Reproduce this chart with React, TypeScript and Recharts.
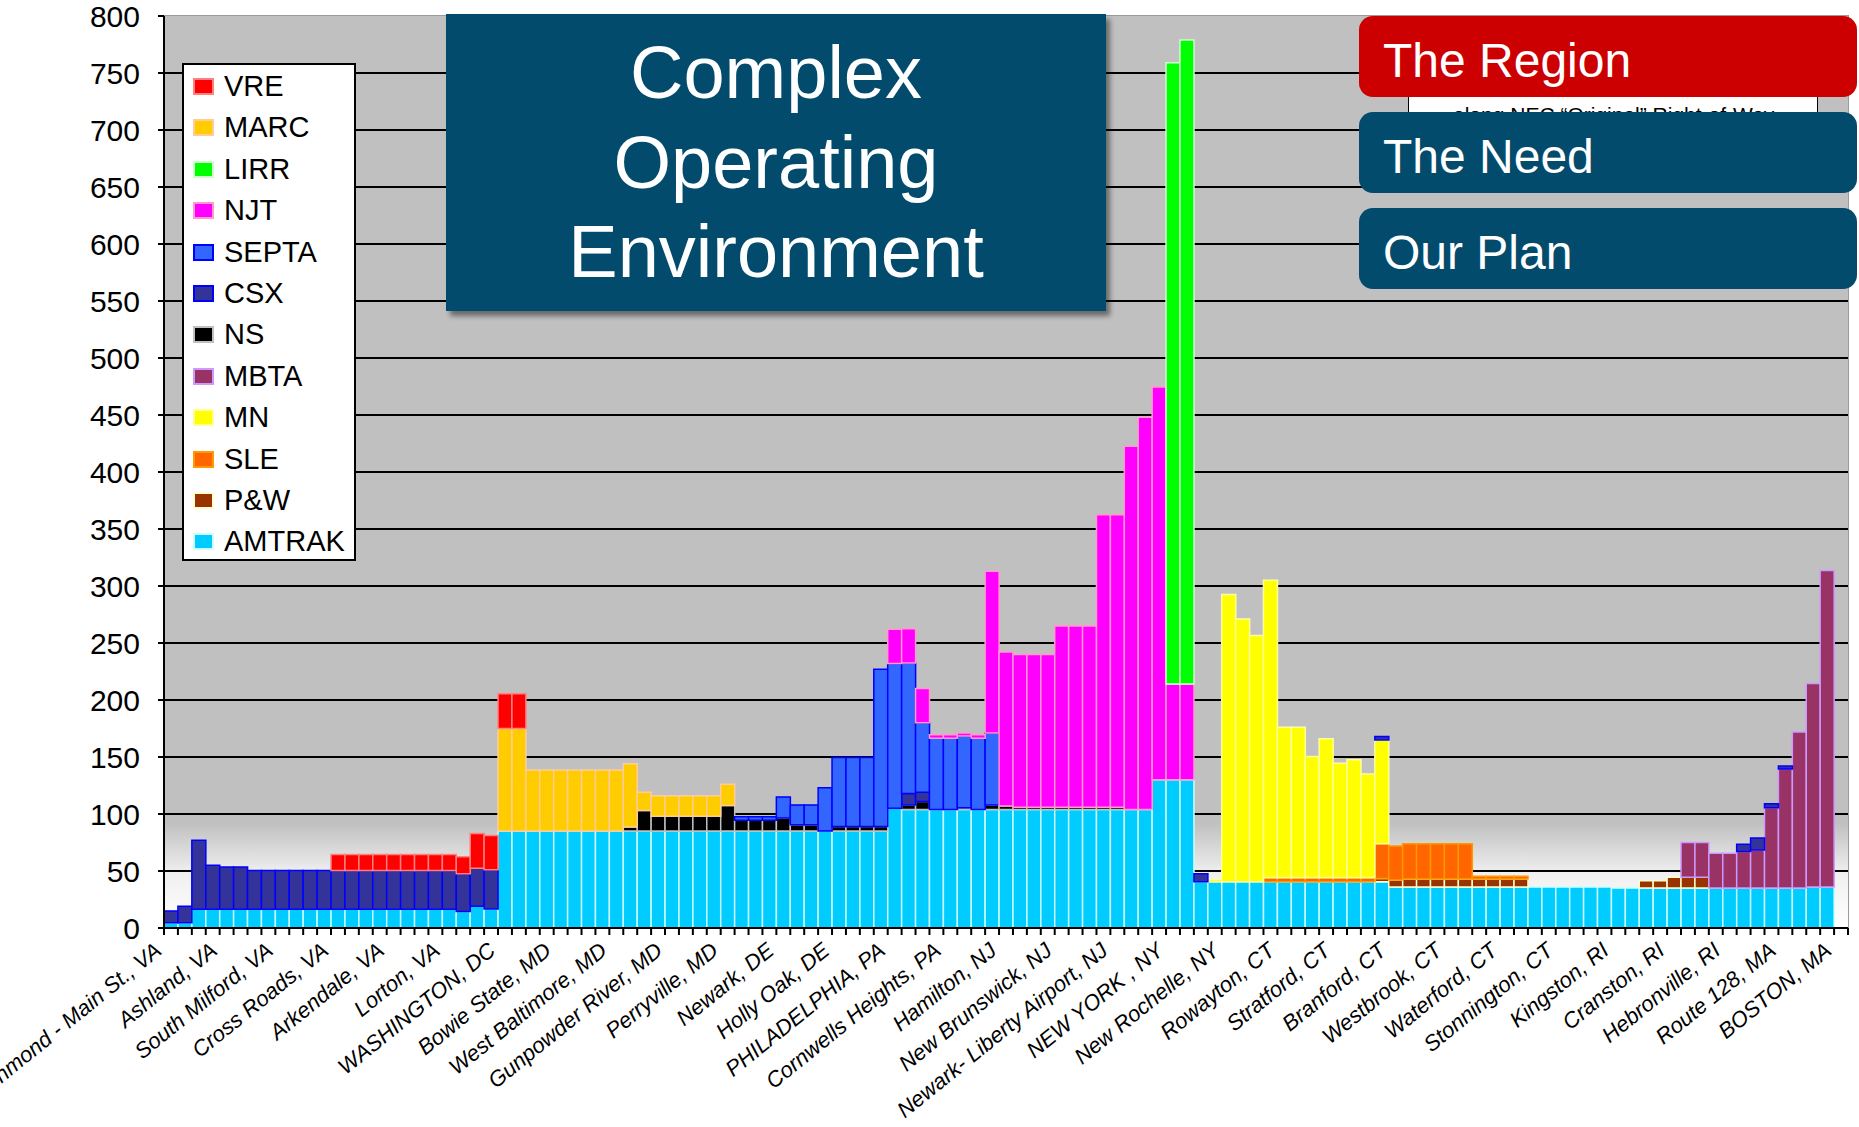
import { BarChart, Bar, XAxis, YAxis, CartesianGrid } from "recharts";

const W = 1859;
const H = 1127;
const MARGIN = { top: 16, right: 11, bottom: 0, left: 0 };
const Y_AXIS_W = 164;
const X_AXIS_H = 199;
const PLOT_LEFT = MARGIN.left + Y_AXIS_W;
const PLOT_TOP = MARGIN.top;
const PLOT_BOTTOM = H - X_AXIS_H;
const CATEGORY_COUNT = 121;
const BAND = (W - MARGIN.right - PLOT_LEFT) / CATEGORY_COUNT;
const FONT = "'Liberation Sans', Arial, sans-serif";

// one label every 4th station, from Richmond (0) to Boston (120)
const TICK_LABELS = [
  "Richmond - Main St., VA", "Ashland, VA", "South Milford, VA", "Cross Roads, VA",
  "Arkendale, VA", "Lorton, VA", "WASHINGTON, DC", "Bowie State, MD",
  "West Baltimore, MD", "Gunpowder River, MD", "Perryville, MD", "Newark, DE",
  "Holly Oak, DE", "PHILADELPHIA, PA", "Cornwells Heights, PA", "Hamilton, NJ",
  "New Brunswick, NJ", "Newark- Liberty Airport, NJ", "NEW YORK , NY", "New Rochelle, NY",
  "Rowayton, CT", "Stratford, CT", "Branford, CT", "Westbrook, CT",
  "Waterford, CT", "Stonnington, CT", "Kingston, RI", "Cranston, RI",
  "Hebronville, RI", "Route 128, MA", "BOSTON, MA",
];

const Y_TICKS = [0, 50, 100, 150, 200, 250, 300, 350, 400, 450, 500, 550, 600, 650, 700, 750, 800];
const GRID_VALUES = [50, 100, 150, 200, 250, 300, 350, 400, 450, 500, 550, 600, 650, 700, 750];

// trains per day, by station (121 slots)
const AMTRAK = [
  4.5, 4.5, 16.5, 16.5, 16.5, 16.5, 16.5, 16.5, 16.5, 16.5,
  16.5, 16.5, 16.5, 16.5, 16.5, 16.5, 16.5, 16.5, 16.5, 16.5,
  16.5, 14.5, 19, 16.7, 85, 85, 85, 85, 85, 85,
  85, 85, 85, 85, 85, 85, 85, 85, 85, 85,
  85, 85, 85, 85, 85, 85, 85, 85, 85, 85,
  85, 85, 105, 104, 104, 104, 104, 104, 104, 104,
  104, 104, 104, 104, 104, 104, 104, 104, 104, 104,
  104, 130, 130, 130, 40.5, 40.5, 40.5, 40.5, 40.5, 40.5,
  40.5, 40.5, 40.5, 40.5, 40.5, 40.5, 40.5, 40.5, 36, 36,
  36, 36, 36, 36, 36, 36, 36, 36, 36, 36,
  36, 36, 36, 36, 35, 35, 35, 35, 35, 35,
  35, 35, 35, 35, 35, 35, 35, 35, 36, 36,
  0,
];
const PW = [
  0, 0, 0, 0, 0, 0, 0, 0, 0, 0,
  0, 0, 0, 0, 0, 0, 0, 0, 0, 0,
  0, 0, 0, 0, 0, 0, 0, 0, 0, 0,
  0, 0, 0, 0, 0, 0, 0, 0, 0, 0,
  0, 0, 0, 0, 0, 0, 0, 0, 0, 0,
  0, 0, 0, 0, 0, 0, 0, 0, 0, 0,
  0, 0, 0, 0, 0, 0, 0, 0, 0, 0,
  0, 0, 0, 0, 0, 0, 0, 0, 0, 0,
  0, 0, 0, 0, 0, 0, 0, 3, 6, 7,
  7, 7, 7, 7, 7, 7, 7, 7, 0, 0,
  0, 0, 0, 0, 0, 0, 6.5, 6.5, 9.5, 9.5,
  9.5, 0, 0, 0, 0, 0, 0, 0, 0, 0,
  0,
];
const SLE = [
  0, 0, 0, 0, 0, 0, 0, 0, 0, 0,
  0, 0, 0, 0, 0, 0, 0, 0, 0, 0,
  0, 0, 0, 0, 0, 0, 0, 0, 0, 0,
  0, 0, 0, 0, 0, 0, 0, 0, 0, 0,
  0, 0, 0, 0, 0, 0, 0, 0, 0, 0,
  0, 0, 0, 0, 0, 0, 0, 0, 0, 0,
  0, 0, 0, 0, 0, 0, 0, 0, 0, 0,
  0, 0, 0, 0, 0, 0, 0, 0, 0, 3.5,
  3.5, 3.5, 3.5, 3.5, 3.5, 3.5, 3.5, 30.5, 30, 31,
  31, 31, 31, 31, 2.5, 2.5, 2.5, 2.5, 0, 0,
  0, 0, 0, 0, 0, 0, 0, 0, 0, 0,
  0, 0, 0, 0, 0, 0, 0, 0, 0, 0,
  0,
];
const MN = [
  0, 0, 0, 0, 0, 0, 0, 0, 0, 0,
  0, 0, 0, 0, 0, 0, 0, 0, 0, 0,
  0, 0, 0, 0, 0, 0, 0, 0, 0, 0,
  0, 0, 0, 0, 0, 0, 0, 0, 0, 0,
  0, 0, 0, 0, 0, 0, 0, 0, 0, 0,
  0, 0, 0, 0, 0, 0, 0, 0, 0, 0,
  0, 0, 0, 0, 0, 0, 0, 0, 0, 0,
  0, 0, 0, 0, 0, 2, 252, 230.5, 216, 261,
  132, 132, 106.5, 122, 100.5, 103.5, 91, 91, 0, 0,
  0, 0, 0, 0, 0, 0, 0, 0, 0, 0,
  0, 0, 0, 0, 0, 0, 0, 0, 0, 0,
  0, 0, 0, 0, 0, 0, 0, 0, 0, 0,
  0,
];
const MBTA = [
  0, 0, 0, 0, 0, 0, 0, 0, 0, 0,
  0, 0, 0, 0, 0, 0, 0, 0, 0, 0,
  0, 0, 0, 0, 0, 0, 0, 0, 0, 0,
  0, 0, 0, 0, 0, 0, 0, 0, 0, 0,
  0, 0, 0, 0, 0, 0, 0, 0, 0, 0,
  0, 0, 0, 0, 0, 0, 0, 0, 0, 0,
  0, 0, 0, 0, 0, 0, 0, 0, 0, 0,
  0, 0, 0, 0, 0, 0, 0, 0, 0, 0,
  0, 0, 0, 0, 0, 0, 0, 0, 0, 0,
  0, 0, 0, 0, 0, 0, 0, 0, 0, 0,
  0, 0, 0, 0, 0, 0, 0, 0, 0, 30.5,
  30.5, 30.5, 30.5, 32, 33.5, 70.5, 104.5, 137, 178.5, 277.5,
  0,
];
const NS = [
  0, 0, 0, 0, 0, 0, 0, 0, 0, 0,
  0, 0, 0, 0, 0, 0, 0, 0, 0, 0,
  0, 0, 0, 0, 0, 0, 0, 0, 0, 0,
  0, 0, 0, 3.5, 18, 13, 13, 13, 13, 13,
  22.5, 9.5, 9.5, 9.5, 11.5, 5.5, 5.5, 0, 4, 4,
  4, 4, 0, 4, 7, 0, 0, 1.5, 0, 4,
  3, 2, 2, 2, 2, 2, 2, 2, 2, 0,
  0, 0, 0, 0, 0, 0, 0, 0, 0, 0,
  0, 0, 0, 0, 0, 0, 0, 0, 0, 0,
  0, 0, 0, 0, 0, 0, 0, 0, 0, 0,
  0, 0, 0, 0, 0, 0, 0, 0, 0, 0,
  0, 0, 0, 0, 0, 0, 0, 0, 0, 0,
  0,
];
const CSX = [
  10.5, 14.5, 60.5, 38.5, 37, 37, 34, 34, 34, 34,
  34, 34, 34, 34, 34, 34, 34, 34, 34, 34,
  34, 33, 33.5, 34.5, 0, 0, 0, 0, 0, 0,
  0, 0, 0, 0, 0, 0, 0, 0, 0, 0,
  0, 0, 0, 0, 0, 0, 0, 0, 0, 0,
  0, 0, 0, 10, 8, 0, 0, 0, 0, 0,
  0, 0, 0, 0, 0, 0, 0, 0, 0, 0,
  0, 0, 0, 0, 7, 0, 0, 0, 0, 0,
  0, 0, 0, 0, 0, 0, 0, 3, 0, 0,
  0, 0, 0, 0, 0, 0, 0, 0, 0, 0,
  0, 0, 0, 0, 0, 0, 0, 0, 0, 0,
  0, 0, 0, 6.5, 10.5, 3.5, 2.5, 0, 0, 0,
  0,
];
const SEPTA = [
  0, 0, 0, 0, 0, 0, 0, 0, 0, 0,
  0, 0, 0, 0, 0, 0, 0, 0, 0, 0,
  0, 0, 0, 0, 0, 0, 0, 0, 0, 0,
  0, 0, 0, 0, 0, 0, 0, 0, 0, 0,
  0, 3, 3, 3, 18.5, 17.5, 17.5, 38, 60.5, 60.5,
  60.5, 138, 127, 114.5, 61, 62.5, 62.5, 63, 62.5, 63,
  0, 0, 0, 0, 0, 0, 0, 0, 0, 0,
  0, 0, 0, 0, 0, 0, 0, 0, 0, 0,
  0, 0, 0, 0, 0, 0, 0, 0, 0, 0,
  0, 0, 0, 0, 0, 0, 0, 0, 0, 0,
  0, 0, 0, 0, 0, 0, 0, 0, 0, 0,
  0, 0, 0, 0, 0, 0, 0, 0, 0, 0,
  0,
];
const NJT = [
  0, 0, 0, 0, 0, 0, 0, 0, 0, 0,
  0, 0, 0, 0, 0, 0, 0, 0, 0, 0,
  0, 0, 0, 0, 0, 0, 0, 0, 0, 0,
  0, 0, 0, 0, 0, 0, 0, 0, 0, 0,
  0, 0, 0, 0, 0, 0, 0, 0, 0, 0,
  0, 0, 30, 30, 30, 3, 3, 2.5, 3, 142,
  135, 134, 134, 134, 159, 159, 159, 256.5, 256.5, 318.5,
  344, 344.5, 84, 84, 0, 0, 0, 0, 0, 0,
  0, 0, 0, 0, 0, 0, 0, 0, 0, 0,
  0, 0, 0, 0, 0, 0, 0, 0, 0, 0,
  0, 0, 0, 0, 0, 0, 0, 0, 0, 0,
  0, 0, 0, 0, 0, 0, 0, 0, 0, 0,
  0,
];
const LIRR = [
  0, 0, 0, 0, 0, 0, 0, 0, 0, 0,
  0, 0, 0, 0, 0, 0, 0, 0, 0, 0,
  0, 0, 0, 0, 0, 0, 0, 0, 0, 0,
  0, 0, 0, 0, 0, 0, 0, 0, 0, 0,
  0, 0, 0, 0, 0, 0, 0, 0, 0, 0,
  0, 0, 0, 0, 0, 0, 0, 0, 0, 0,
  0, 0, 0, 0, 0, 0, 0, 0, 0, 0,
  0, 0, 545, 565, 0, 0, 0, 0, 0, 0,
  0, 0, 0, 0, 0, 0, 0, 0, 0, 0,
  0, 0, 0, 0, 0, 0, 0, 0, 0, 0,
  0, 0, 0, 0, 0, 0, 0, 0, 0, 0,
  0, 0, 0, 0, 0, 0, 0, 0, 0, 0,
  0,
];
const MARC = [
  0, 0, 0, 0, 0, 0, 0, 0, 0, 0,
  0, 0, 0, 0, 0, 0, 0, 0, 0, 0,
  0, 0, 0, 0, 90, 90, 53.5, 53.5, 53.5, 53.5,
  53.5, 53.5, 53.5, 55.5, 16, 18, 18, 18, 18, 18,
  18.5, 0, 0, 0, 0, 0, 0, 0, 0, 0,
  0, 0, 0, 0, 0, 0, 0, 0, 0, 0,
  0, 0, 0, 0, 0, 0, 0, 0, 0, 0,
  0, 0, 0, 0, 0, 0, 0, 0, 0, 0,
  0, 0, 0, 0, 0, 0, 0, 0, 0, 0,
  0, 0, 0, 0, 0, 0, 0, 0, 0, 0,
  0, 0, 0, 0, 0, 0, 0, 0, 0, 0,
  0, 0, 0, 0, 0, 0, 0, 0, 0, 0,
  0,
];
const VRE = [
  0, 0, 0, 0, 0, 0, 0, 0, 0, 0,
  0, 0, 14, 14, 14, 14, 14, 14, 14, 14,
  14, 15, 30.5, 30, 30.5, 30.5, 0, 0, 0, 0,
  0, 0, 0, 0, 0, 0, 0, 0, 0, 0,
  0, 0, 0, 0, 0, 0, 0, 0, 0, 0,
  0, 0, 0, 0, 0, 0, 0, 0, 0, 0,
  0, 0, 0, 0, 0, 0, 0, 0, 0, 0,
  0, 0, 0, 0, 0, 0, 0, 0, 0, 0,
  0, 0, 0, 0, 0, 0, 0, 0, 0, 0,
  0, 0, 0, 0, 0, 0, 0, 0, 0, 0,
  0, 0, 0, 0, 0, 0, 0, 0, 0, 0,
  0, 0, 0, 0, 0, 0, 0, 0, 0, 0,
  0,
];

// stack order, bottom to top (legend shows it reversed)
const SERIES = [
  { key: "AMTRAK", values: AMTRAK, fill: "#00CCFF", stroke: "#CCFFFF" },
  { key: "P&W", values: PW, fill: "#993300", stroke: "#FFFFCC" },
  { key: "SLE", values: SLE, fill: "#FF6600", stroke: "#FF9900" },
  { key: "MN", values: MN, fill: "#FFFF00", stroke: "#FFFF99" },
  { key: "MBTA", values: MBTA, fill: "#993366", stroke: "#CC99FF" },
  { key: "NS", values: NS, fill: "#000000", stroke: "#C0C0C0" },
  { key: "CSX", values: CSX, fill: "#333399", stroke: "#0000FF" },
  { key: "SEPTA", values: SEPTA, fill: "#3366FF", stroke: "#0000FF" },
  { key: "NJT", values: NJT, fill: "#FF00FF", stroke: "#FF99CC" },
  { key: "LIRR", values: LIRR, fill: "#00FF00", stroke: "#CCFFCC" },
  { key: "MARC", values: MARC, fill: "#FFCC00", stroke: "#FFCC99" },
  { key: "VRE", values: VRE, fill: "#FF0000", stroke: "#FF8080" },
];

const data = AMTRAK.map((_, i) => {
  const row: Record<string, number> = { idx: i };
  SERIES.forEach((s) => {
    row[s.key] = s.values[i];
  });
  return row;
});

function CategoryTick(props: any) {
  const { x, payload } = props;
  const i = Number(payload.value);
  const left = x - BAND / 2;
  const label = i % 4 === 0 ? TICK_LABELS[i / 4] : "";
  const ax = x - 8;
  const ay = PLOT_BOTTOM + 25;
  return (
    <g>
      <line x1={left} x2={left} y1={PLOT_BOTTOM} y2={PLOT_BOTTOM + 7} stroke="#000" strokeWidth={2} />
      {i === CATEGORY_COUNT - 1 && (
        <line x1={x + BAND / 2} x2={x + BAND / 2} y1={PLOT_BOTTOM} y2={PLOT_BOTTOM + 7} stroke="#000" strokeWidth={2} />
      )}
      {label && (
        <text
          x={ax}
          y={ay}
          transform={`rotate(-39 ${ax} ${ay})`}
          textAnchor="end"
          fontSize={22}
          fontStyle="italic"
          fontFamily={FONT}
          fill="#000"
        >
          {label}
        </text>
      )}
    </g>
  );
}

const NAV = [
  { text: "The Region", top: 16, color: "#CC0000" },
  { text: "The Need", top: 112, color: "#034B6C" },
  { text: "Our Plan", top: 208, color: "#034B6C" },
];

export default function App() {
  const legendItems = [...SERIES].reverse();
  return (
    <div style={{ position: "absolute", left: 0, top: 0, width: W, height: H, background: "#fff", overflow: "hidden" }}>
      <BarChart
        width={W}
        height={H}
        data={data}
        margin={MARGIN}
        barCategoryGap={0}
        barGap={0}
      >
        <defs>
          <linearGradient id="plotBg" x1="0" y1="0" x2="0" y2="1">
            <stop offset="0" stopColor="#C0C0C0" />
            <stop offset="0.885" stopColor="#C0C0C0" />
            <stop offset="0.94" stopColor="#F0F0F0" />
            <stop offset="1" stopColor="#FFFFFF" />
          </linearGradient>
        </defs>
        <CartesianGrid
          vertical={false}
          horizontalValues={GRID_VALUES}
          stroke="#000"
          strokeWidth={2}
          fill="url(#plotBg)"
          fillOpacity={1}
        />
        <XAxis
          dataKey="idx"
          type="category"
          interval={0}
          height={X_AXIS_H}
          tickLine={false}
          axisLine={{ stroke: "#000", strokeWidth: 2 }}
          tick={<CategoryTick />}
        />
        <YAxis
          domain={[0, 800]}
          ticks={Y_TICKS}
          width={Y_AXIS_W}
          tickSize={6}
          tickMargin={18}
          interval={0}
          axisLine={{ stroke: "#000", strokeWidth: 2 }}
          tickLine={{ stroke: "#000", strokeWidth: 2 }}
          tick={{ fill: "#000", fontSize: 30, fontFamily: FONT }}
        />
        {SERIES.map((s) => (
          <Bar
            key={s.key}
            dataKey={s.key}
            stackId="trains"
            fill={s.fill}
            stroke={s.stroke}
            strokeWidth={1.5}
            isAnimationActive={false}
          />
        ))}
      </BarChart>

      {/* plot border, top and right */}
      <div
        style={{
          position: "absolute",
          left: PLOT_LEFT,
          top: PLOT_TOP - 1,
          width: W - MARGIN.right - PLOT_LEFT,
          height: PLOT_BOTTOM - PLOT_TOP,
          borderTop: "1.5px solid #9A9A9A",
          borderRight: "1.5px solid #9A9A9A",
          pointerEvents: "none",
        }}
      />

      {/* legend */}
      <div
        style={{
          position: "absolute",
          left: 182,
          top: 63,
          width: 170,
          height: 494,
          background: "#fff",
          border: "2px solid #000",
          fontFamily: FONT,
        }}
      >
        {legendItems.map((s, i) => (
          <div
            key={s.key}
            style={{ position: "absolute", left: 0, top: 1 + i * 41.4, height: 41, display: "flex", alignItems: "center" }}
          >
            <div
              style={{
                marginLeft: 9,
                width: 17,
                height: 13,
                background: s.fill,
                border: `2px solid ${s.stroke}`,
              }}
            />
            <span style={{ marginLeft: 10, fontSize: 29, color: "#000", lineHeight: "41px" }}>{s.key}</span>
          </div>
        ))}
      </div>

      {/* title box */}
      <div
        style={{
          position: "absolute",
          left: 446,
          top: 14,
          width: 660,
          height: 297,
          background: "#034B6C",
          boxShadow: "4px 5px 5px rgba(0,0,0,0.45)",
          color: "#fff",
          fontFamily: FONT,
          fontSize: 74,
          lineHeight: "89.5px",
          textAlign: "center",
          display: "flex",
          flexDirection: "column",
          justifyContent: "center",
        }}
      >
        <div>Complex</div>
        <div>Operating</div>
        <div>Environment</div>
      </div>

      {/* half hidden note behind the navigation tabs */}
      <div
        style={{
          position: "absolute",
          left: 1408,
          top: 88,
          width: 408,
          height: 30,
          background: "#fff",
          border: "1.5px solid #000",
          overflow: "hidden",
          fontFamily: FONT,
          fontSize: 21,
          color: "#000",
        }}
      >
        <div style={{ position: "absolute", left: 44, top: 14, whiteSpace: "nowrap" }}>
          along NEC “Original” Right-of-Way
        </div>
      </div>

      {NAV.map((n) => (
        <div
          key={n.text}
          style={{
            position: "absolute",
            left: 1359,
            top: n.top,
            width: 498,
            height: 81,
            borderRadius: 14,
            background: n.color,
            color: "#fff",
            fontFamily: FONT,
            fontSize: 48,
            lineHeight: "81px",
            paddingTop: 4,
            paddingLeft: 24,
            boxSizing: "border-box",
          }}
        >
          {n.text}
        </div>
      ))}
    </div>
  );
}
